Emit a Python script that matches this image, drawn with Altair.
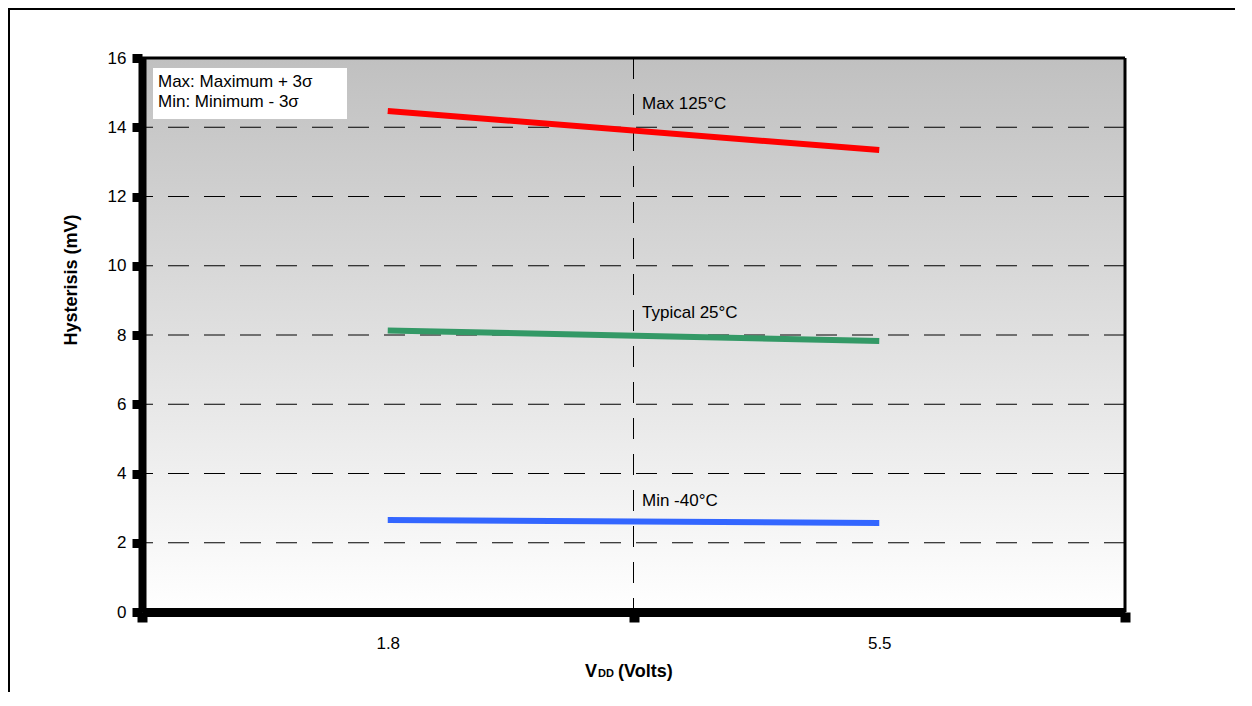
import altair as alt
import pandas as pd

# ---- data ----
vdd = ["1.8", "5.5"]
series_names = ["Max 125°C", "Typical 25°C", "Min -40°C"]
series_colors = ["#FF0000", "#339966", "#3366FF"]
max_125 = [14.47, 13.34]
typ_25 = [8.13, 7.83]
min_m40 = [2.66, 2.57]
y_ticks = [0, 2, 4, 6, 8, 10, 12, 14, 16]
grid_values = [2, 4, 6, 8, 10, 12, 14]
label_y = [14.53, 8.48, 3.07]
legend_lines = ["Max: Maximum + 3σ", "Min: Minimum - 3σ"]

FONT = "Liberation Sans"
W, H = 983, 554

rows = []
for name, vals in zip(series_names, [max_125, typ_25, min_m40]):
    for v, y in zip(vdd, vals):
        rows.append({"series": name, "vdd": v, "value": y})
lines_df = pd.DataFrame(rows)
grid_df = pd.DataFrame({"value": grid_values})
label_df = pd.DataFrame({"label": series_names, "value": label_y})
one = pd.DataFrame({"a": [0]})

x_scale = alt.Scale(type="band", domain=vdd, paddingInner=0, paddingOuter=0)
y_scale = alt.Scale(domain=[0, 16], nice=False)

y_axis = alt.Axis(values=y_ticks, grid=False, title=None, domainWidth=8, domainColor="black",
                  tickColor="black", tickWidth=9, tickSize=10, labelFont=FONT, labelFontSize=17,
                  labelColor="black", labelPadding=6, zindex=1)
x_axis = alt.Axis(tickBand="extent", grid=False, title=None, domainWidth=9, domainColor="black",
                  tickColor="black", tickWidth=10, tickSize=10, labelFont=FONT, labelFontSize=17,
                  labelColor="black", labelPadding=13, labelAngle=0, zindex=1)

gradient = alt.Gradient(
    gradient="linear",
    stops=[alt.GradientStop(color="#c0c0c0", offset=0), alt.GradientStop(color="#ffffff", offset=1)],
    x1=0, x2=0, y1=0, y2=1,
)

bg = alt.Chart(one).mark_rect(color=gradient).encode(
    x=alt.value(0), x2=alt.value(W), y=alt.value(0), y2=alt.value(H))

grid_h = alt.Chart(grid_df).mark_rule(color="black", strokeWidth=1, strokeDash=[21, 15]).encode(
    y=alt.Y("value:Q", scale=y_scale, axis=y_axis))

grid_v = alt.Chart(one).mark_rule(color="black", strokeWidth=1, strokeDash=[21, 15]).encode(
    x=alt.value(W / 2), y=alt.value(0), y2=alt.value(H))

lines = alt.Chart(lines_df).mark_line(strokeWidth=6, strokeCap="butt").encode(
    x=alt.X("vdd:N", scale=x_scale, axis=x_axis, bandPosition=0.5, sort=vdd),
    y=alt.Y("value:Q", scale=y_scale, axis=y_axis),
    color=alt.Color("series:N", scale=alt.Scale(domain=series_names, range=series_colors), legend=None),
)

labels = alt.Chart(label_df).mark_text(align="left", baseline="alphabetic", font=FONT, fontSize=17,
                                       color="black").encode(
    x=alt.value(500), y=alt.Y("value:Q", scale=y_scale, axis=y_axis), text="label:N")

legend_box = alt.Chart(one).mark_rect(color="white").encode(
    x=alt.value(11), x2=alt.value(205), y=alt.value(10), y2=alt.value(61))
legend_t1 = alt.Chart(one).mark_text(text=legend_lines[0], align="left", baseline="alphabetic",
                                     font=FONT, fontSize=17, color="black").encode(
    x=alt.value(16), y=alt.value(29))
legend_t2 = alt.Chart(one).mark_text(text=legend_lines[1], align="left", baseline="alphabetic",
                                     font=FONT, fontSize=17, color="black").encode(
    x=alt.value(16), y=alt.value(49))

top_border = alt.Chart(one).mark_rule(color="black", strokeWidth=3).encode(
    x=alt.value(0), x2=alt.value(W), y=alt.value(0))
right_border = alt.Chart(one).mark_rule(color="black", strokeWidth=3).encode(
    x=alt.value(W), y=alt.value(0), y2=alt.value(H))

frame_left = alt.Chart(one).mark_rule(color="black", strokeWidth=2).encode(
    x=alt.value(-133), y=alt.value(-49), y2=alt.value(H + 80))
frame_top = alt.Chart(one).mark_rule(color="black", strokeWidth=2).encode(
    x=alt.value(-134), x2=alt.value(W + 110), y=alt.value(-49))

y_title = alt.Chart(one).mark_text(text="Hysterisis (mV)", angle=270, align="center", baseline="middle",
                                   font=FONT, fontSize=18, fontWeight="bold", color="black").encode(
    x=alt.value(-70), y=alt.value(222))
x_title_v = alt.Chart(one).mark_text(text="V", align="left", baseline="alphabetic", font=FONT,
                                     fontSize=18, fontWeight="bold", color="black").encode(
    x=alt.value(443), y=alt.value(619))
x_title_dd = alt.Chart(one).mark_text(text="DD", align="left", baseline="alphabetic", font=FONT,
                                      fontSize=11, fontWeight="bold", color="black").encode(
    x=alt.value(456), y=alt.value(619))
x_title_rest = alt.Chart(one).mark_text(text="(Volts)", align="left", baseline="alphabetic", font=FONT,
                                        fontSize=18, fontWeight="bold", color="black").encode(
    x=alt.value(476), y=alt.value(619))

chart = alt.layer(
    bg, grid_h, grid_v, lines, labels, legend_box, legend_t1, legend_t2,
    top_border, right_border, frame_left, frame_top,
    y_title, x_title_v, x_title_dd, x_title_rest,
).properties(
    width=W, height=H,
    padding={"left": 134, "top": 50, "right": 110, "bottom": 80},
    autosize=alt.AutoSizeParams(type="none"),
    background="white",
).configure_view(stroke=None)

chart.save("out.html", embed_options={"renderer": "svg", "actions": False})
